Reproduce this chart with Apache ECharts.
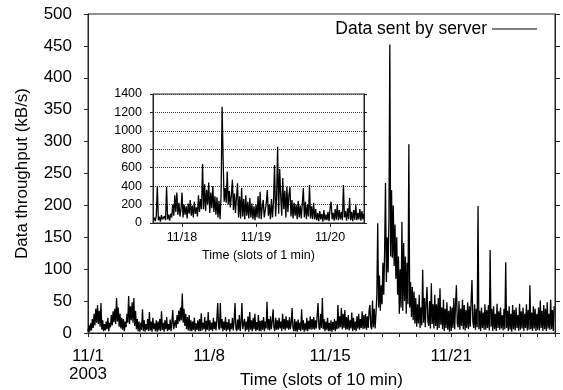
<!DOCTYPE html>
<html>
<head>
<meta charset="utf-8">
<script src="https://cdn.jsdelivr.net/npm/echarts@6/dist/echarts.min.js"></script>
<style>
  html, body { margin: 0; padding: 0; background: #fff; }
  #chart { width: 563px; height: 390px; }
</style>
</head>
<body>
<div id="chart"></div>
<script>
// main plot: 10-min throughput, resampled to 20 points per day, starting 11/1
var mainPerDay = 20;
var mainSent = [
    3, 12, 2, 15, 4, 22, 8, 30, 12, 38, 16, 44, 14, 35, 10, 47, 5, 20, 3, 14,
    4, 18, 6, 24, 3, 16, 9, 28, 12, 34, 17, 38, 14, 55, 18, 40, 10, 30, 7, 24,
    5, 22, 3, 18, 9, 30, 16, 58, 14, 42, 20, 48, 16, 55, 11, 35, 6, 22, 3, 18,
    2, 16, 5, 37, 3, 20, 2, 14, 5, 22, 3, 33, 4, 18, 2, 24, 6, 15, 3, 20,
    2, 18, 4, 22, 3, 34, 5, 16, 2, 20, 6, 25, 3, 14, 5, 21, 3, 17, 36, 6,
    5, 20, 8, 28, 14, 35, 18, 40, 20, 62, 16, 38, 11, 30, 6, 25, 4, 28, 3, 20,
    3, 18, 5, 24, 2, 15, 5, 20, 3, 22, 3, 31, 4, 16, 6, 25, 2, 19, 5, 33,
    3, 20, 5, 16, 3, 24, 6, 18, 4, 22, 47, 9, 5, 47, 7, 22, 3, 18, 5, 25,
    3, 17, 5, 22, 2, 15, 6, 24, 4, 20, 47, 7, 3, 21, 5, 28, 3, 16, 47, 6,
    4, 22, 3, 18, 5, 26, 2, 33, 5, 20, 3, 24, 6, 30, 3, 17, 5, 28, 3, 19,
    3, 20, 5, 25, 3, 18, 7, 49, 5, 22, 4, 26, 6, 18, 37, 8, 3, 24, 5, 20,
    5, 24, 7, 18, 3, 30, 6, 22, 4, 26, 7, 20, 5, 25, 6, 16, 39, 8, 3, 22,
    3, 18, 2, 21, 5, 16, 3, 37, 5, 20, 2, 15, 4, 24, 3, 19, 6, 26, 5, 22,
    6, 25, 5, 20, 7, 28, 47, 9, 5, 30, 8, 55, 6, 22, 3, 18, 5, 24, 3, 16,
    3, 20, 2, 17, 5, 22, 3, 19, 6, 44, 7, 26, 9, 39, 6, 30, 8, 36, 5, 25,
    6, 28, 4, 20, 7, 32, 3, 24, 5, 18, 3, 26, 7, 30, 5, 22, 8, 34, 6, 28,
    7, 30, 5, 26, 8, 35, 44, 10, 6, 51, 9, 38, 7, 30, 60, 172, 40, 90, 35, 75,
    45, 110, 60, 130, 235, 80, 150, 95, 180, 452, 120, 224, 118, 200, 105, 170, 85, 150, 60, 120,
    30, 100, 40, 174, 35, 141, 50, 120, 30, 110, 45, 296, 40, 80, 25, 72, 20, 65, 15, 55,
    10, 45, 15, 60, 8, 40, 12, 99, 16, 55, 9, 48, 72, 18, 11, 50, 7, 78, 14, 45,
    7, 60, 11, 45, 5, 55, 8, 70, 13, 40, 6, 52, 3, 38, 8, 48, 5, 35, 2, 42,
    3, 40, 8, 55, 6, 45, 75, 15, 9, 50, 5, 38, 11, 52, 6, 44, 4, 36, 8, 48,
    6, 42, 10, 50, 83, 18, 8, 45, 5, 38, 9, 199, 6, 35, 3, 40, 8, 32, 5, 45,
    5, 36, 8, 44, 4, 130, 10, 38, 3, 42, 6, 30, 3, 46, 8, 34, 5, 40, 7, 28,
    4, 38, 6, 111, 8, 35, 3, 42, 5, 30, 2, 44, 6, 36, 4, 40, 8, 28, 3, 46,
    5, 34, 7, 40, 3, 30, 8, 45, 4, 36, 5, 75, 6, 32, 3, 42, 7, 38, 3, 30,
    5, 40, 4, 51, 8, 35, 3, 44, 6, 38, 3, 48, 7, 30, 5, 52, 6, 36, 3, 42
];
var mainTickDays = [0, 7, 14, 21];
var mainTickLabels = ['11/1\n2003', '11/8', '11/15', '11/21'];

// inset: 1-min throughput around the peak, resampled to 3 points per hour,
// hours counted from 11/18 00:00
var insetPerHour = 3;
var insetStartHour = -9;
var insetSent = [
    60, 20, 80, 394, 30, 70, 15, 85, 40, 20, 75, 30,
    394, 40, 90, 25, 100, 60, 200, 80, 300, 120, 330, 90,
    220, 70, 150, 330, 60, 200, 90, 180, 50, 210, 100, 250,
    80, 190, 60, 230, 100, 170, 70, 300, 120, 260, 150, 640,
    150, 420, 130, 360, 200, 440, 110, 330, 160, 400, 120, 290,
    90, 280, 60, 240, 40, 300, 1262, 684, 230, 380, 220, 560,
    200, 350, 170, 300, 470, 140, 320, 110, 280, 430, 60, 290,
    50, 380, 70, 260, 40, 300, 80, 230, 50, 270, 60, 210,
    40, 180, 30, 200, 60, 293, 50, 340, 40, 170, 250, 60,
    50, 220, 357, 80, 200, 40, 260, 60, 230, 630, 70, 280,
    828, 100, 585, 300, 80, 488, 150, 350, 60, 394, 120, 300,
    390, 70, 250, 50, 220, 80, 200, 40, 240, 60, 190, 50,
    210, 380, 60, 230, 40, 200, 70, 412, 50, 180, 40, 220,
    40, 150, 30, 110, 20, 130, 40, 100, 15, 140, 30, 90,
    30, 120, 20, 160, 231, 40, 110, 25, 150, 35, 200, 30,
    140, 40, 120, 30, 412, 60, 130, 25, 160, 40, 271, 30,
    120, 20, 140, 35, 200, 30, 110, 40, 150, 25, 130, 40,
    100
];
var insetTickHours = [0, 24, 48];
var insetTickLabels = ['11/18', '11/19', '11/20'];

var font = 'Liberation Sans, Arial, sans-serif';
var ink = '#222';

var mainData = mainSent.map(function (v, i) {
    return [i / mainPerDay, v];
});
var insetData = insetSent.map(function (v, i) {
    return [insetStartHour + i / insetPerHour, v];
});

var chart = echarts.init(document.getElementById('chart'));

var option = {
    animation: false,
    backgroundColor: '#fff',
    textStyle: { fontFamily: font, color: '#000' },
    legend: {
        data: ['Data sent by server'],
        right: 26,
        top: 20,
        padding: 0,
        align: 'right',
        icon: 'rect',
        itemWidth: 45,
        itemHeight: 1,
        textStyle: { fontFamily: font, fontSize: 17.5, color: '#000' }
    },
    grid: [
        {
            left: 88, right: 8, top: 14, bottom: 57,
            outerBoundsMode: 'none',
            show: true, borderColor: ink, borderWidth: 1
        },
        {
            left: 153, right: 199, top: 94, bottom: 167,
            outerBoundsMode: 'none',
            show: true, borderColor: ink, borderWidth: 1, backgroundColor: '#fff', z: 5
        }
    ],
    xAxis: [
        {
            gridIndex: 0,
            type: 'value',
            min: 0,
            max: 27,
            interval: 1,
            name: 'Time (slots of 10 min)',
            nameLocation: 'middle',
            nameGap: 39,
            nameMoveOverlap: false,
            nameTextStyle: { fontFamily: font, fontSize: 17, color: '#000' },
            axisLine: { onZero: false, lineStyle: { color: ink } },
            axisTick: { length: 4, lineStyle: { color: ink } },
            splitLine: { show: false },
            axisLabel: {
                margin: 14,
                fontFamily: font,
                fontSize: 17,
                lineHeight: 18,
                color: '#000',
                formatter: function (v) {
                    var k = mainTickDays.indexOf(v);
                    return k < 0 ? '' : mainTickLabels[k];
                }
            }
        },
        {
            gridIndex: 1,
            type: 'value',
            min: -9.4,
            max: 59,
            name: 'Time (slots of 1 min)',
            nameLocation: 'middle',
            nameGap: 26,
            nameMoveOverlap: false,
            nameTextStyle: { fontFamily: font, fontSize: 12.5, color: '#000' },
            axisLine: { onZero: false, lineStyle: { color: ink } },
            axisTick: { length: 4, customValues: insetTickHours, lineStyle: { color: ink } },
            splitLine: { show: false },
            axisLabel: {
                margin: 8,
                fontFamily: font,
                fontSize: 12.5,
                color: '#000',
                customValues: insetTickHours,
                formatter: function (v) {
                    return insetTickLabels[insetTickHours.indexOf(v)];
                }
            },
            z: 6
        }
    ],
    yAxis: [
        {
            gridIndex: 0,
            type: 'value',
            min: 0,
            max: 500,
            interval: 50,
            name: 'Data throughput (kB/s)',
            nameLocation: 'middle',
            nameRotate: 90,
            nameGap: 57,
            nameMoveOverlap: false,
            nameTextStyle: { fontFamily: font, fontSize: 17, color: '#000' },
            axisLine: { show: true, onZero: false, lineStyle: { color: ink } },
            axisTick: { show: true, length: 4, lineStyle: { color: ink } },
            splitLine: { show: false },
            axisLabel: { margin: 16, fontFamily: font, fontSize: 17, color: '#000' }
        },
        {
            gridIndex: 0,
            type: 'value',
            position: 'right',
            min: 0,
            max: 500,
            interval: 50,
            axisLine: { show: true, onZero: false, lineStyle: { color: ink } },
            axisTick: { show: true, length: 5, lineStyle: { color: ink } },
            splitLine: { show: false },
            axisLabel: { show: false }
        },
        {
            gridIndex: 1,
            type: 'value',
            min: 0,
            max: 1400,
            interval: 200,
            axisLine: { show: true, onZero: false, lineStyle: { color: ink } },
            axisTick: { show: true, length: 3, lineStyle: { color: ink } },
            splitLine: { show: true, lineStyle: { color: '#444', type: 'dotted', width: 1 } },
            axisLabel: {
                margin: 11, fontFamily: font, fontSize: 12.5, color: '#000',
                formatter: function (v) { return String(v); }
            },
            z: 6
        },
        {
            gridIndex: 1,
            type: 'value',
            position: 'right',
            min: 0,
            max: 1400,
            interval: 200,
            axisLine: { show: true, onZero: false, lineStyle: { color: ink } },
            axisTick: { show: true, length: 3, lineStyle: { color: ink } },
            splitLine: { show: false },
            axisLabel: { show: false },
            z: 6
        }
    ],
    series: [
        {
            name: 'Data sent by server',
            type: 'line',
            xAxisIndex: 0,
            yAxisIndex: 0,
            data: mainData,
            showSymbol: false,
            symbol: 'none',
            color: '#000',
            lineStyle: { color: '#000', width: 1.3 },
            z: 2
        },
        {
            name: 'inset',
            type: 'line',
            xAxisIndex: 1,
            yAxisIndex: 2,
            data: insetData,
            showSymbol: false,
            symbol: 'none',
            color: '#000',
            lineStyle: { color: '#000', width: 1.3 },
            z: 7
        }
    ]
};

chart.setOption(option);
</script>
</body>
</html>
